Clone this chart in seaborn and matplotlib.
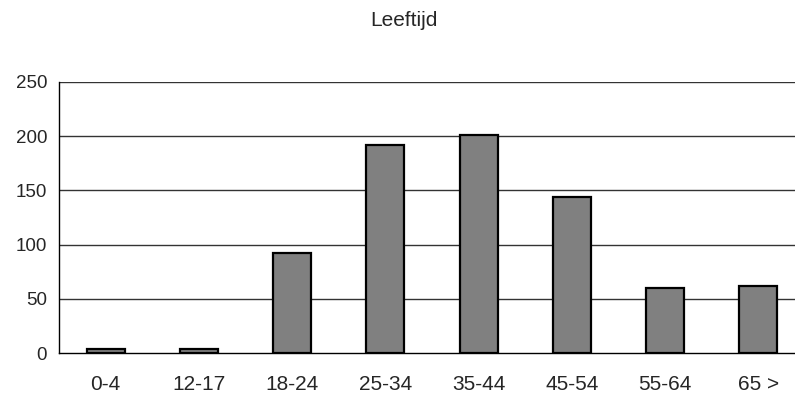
import matplotlib
matplotlib.use("Agg")
import matplotlib.pyplot as plt
import seaborn as sns
import pandas as pd
import numpy as np

categories = ["0-4", "12-17", "18-24", "25-34", "35-44", "45-54", "55-64", "65 >"]
values = [4, 4, 92, 192, 201, 144, 60, 62]
yticks = [0, 50, 100, 150, 200, 250]
title = "Leeftijd"

sns.set_style("white")
plt.rcParams['font.family'] = ['Liberation Sans', 'DejaVu Sans']

df = pd.DataFrame({"cat": categories, "val": values})

fig = plt.figure(figsize=(7.95, 3.97), dpi=100)
ax = fig.add_axes([59/795, 44/397, 746/795, 271/397])

sns.barplot(data=df, x="cat", y="val", ax=ax, color="#808080", saturation=1,
            width=0.41, edgecolor="black", linewidth=1.6, zorder=3)

ax.set_ylim(0, 250)
ax.set_xlim(-0.5, len(categories) - 0.5)
ax.set_yticks(yticks)
ax.set_yticklabels([str(t) for t in yticks], fontsize=13.5)
ax.set_xticks(range(len(categories)))
ax.set_xticklabels(categories, fontsize=15)
ax.set_xticks(np.arange(-0.5, len(categories), 1.0), minor=True)
ax.tick_params(axis="x", which="major", length=0, pad=16)
ax.tick_params(axis="x", which="minor", length=4.5, width=1, color="black", direction="out")
ax.tick_params(axis="y", which="major", length=4.5, width=1, color="black", direction="out", pad=4)
ax.set_xlabel("")
ax.set_ylabel("")

for t in yticks[1:]:
    ax.axhline(t, color="#333333", linewidth=1, zorder=1)

for s in ["top", "right"]:
    ax.spines[s].set_visible(False)
for s in ["left", "bottom"]:
    ax.spines[s].set_color("black")
    ax.spines[s].set_linewidth(1)

fig.text(404/795, 1 - 20/397, title, ha="center", va="center", fontsize=15)

fig.savefig("out.png", dpi=100)
